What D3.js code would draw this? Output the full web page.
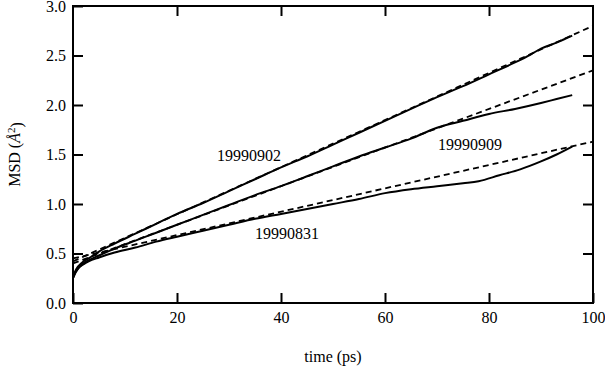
<!DOCTYPE html>
<html>
<head>
<meta charset="utf-8">
<script src="https://cdn.jsdelivr.net/npm/d3@7"></script>
<style>
    html, body {margin: 0; padding: 0; background: #fff;}
    svg {display: block;}
    text {font-family: "Liberation Serif", "Times New Roman", serif; fill: #000;}
</style>
</head>
<body>
<main></main>
<script>

// time (ps) and MSD values
var t0902 = [0, 0.5, 1, 2, 3, 5, 8, 12, 16, 20, 25, 30, 35, 40, 45, 50, 55, 60, 65, 70, 75, 80, 85, 88, 90, 93, 96],
    msd0902 = [0.26, 0.33, 0.37, 0.42, 0.45, 0.52, 0.60, 0.70, 0.80, 0.90, 1.01, 1.13, 1.25, 1.37, 1.48, 1.60, 1.72, 1.84, 1.96, 2.08, 2.19, 2.31, 2.43, 2.51, 2.57, 2.63, 2.70];

var t0909 = [0, 0.5, 1, 2, 3, 5, 8, 12, 16, 20, 25, 30, 35, 40, 45, 50, 55, 60, 65, 70, 75, 80, 85, 90, 93, 96],
    msd0909 = [0.25, 0.31, 0.35, 0.40, 0.43, 0.48, 0.55, 0.63, 0.71, 0.79, 0.89, 0.99, 1.09, 1.18, 1.28, 1.38, 1.48, 1.57, 1.66, 1.77, 1.84, 1.91, 1.96, 2.02, 2.06, 2.10];

var t0831 = [0, 0.5, 1, 2, 3, 5, 8, 12, 16, 20, 25, 30, 35, 40, 45, 50, 55, 60, 65, 70, 75, 78, 82, 86, 90, 93, 96],
    msd0831 = [0.25, 0.31, 0.35, 0.39, 0.42, 0.46, 0.51, 0.56, 0.62, 0.67, 0.73, 0.79, 0.85, 0.90, 0.95, 1.00, 1.05, 1.11, 1.15, 1.18, 1.21, 1.23, 1.29, 1.35, 1.43, 1.50, 1.58];

// linear fits (dashed), end points at t = 0 and t = 100
var fitT = [0, 100],
    fit0902 = [0.42, 2.80],
    fit0909 = [0.40, 2.35],
    fit0831 = [0.45, 1.63];

var names = ["19990902", "19990909", "19990831"];

var xTicks = [0, 20, 40, 60, 80, 100],
    yTicks = [0, 0.5, 1.0, 1.5, 2.0, 2.5, 3.0];

(function () {

    var width = 605,
        height = 370,
        margin = {top: 6, right: 12, bottom: 67, left: 73};

    var svg = d3.select("main")
            .append("svg")
            .attr("width", width)
            .attr("height", height);

    var x = d3.scaleLinear().domain([0, 100]).range([margin.left, width - margin.right]),
        y = d3.scaleLinear().domain([0, 3]).range([height - margin.bottom, margin.top]);

    var line = d3.line()
            .x(function (d) { return x(d[0]); })
            .y(function (d) { return y(d[1]); })
            .curve(d3.curveMonotoneX);

    var series = [
            {name: names[0], t: t0902, v: msd0902, fit: fit0902, at: [27.7, 1.43]},
            {name: names[1], t: t0909, v: msd0909, fit: fit0909, at: [70.2, 1.545]},
            {name: names[2], t: t0831, v: msd0831, fit: fit0831, at: [35.0, 0.645]}
        ];

    series.forEach(function (s) {
        svg.append("path")
            .datum(d3.zip(s.t, s.v))
            .attr("d", line)
            .attr("fill", "none")
            .attr("stroke", "#000")
            .attr("stroke-width", 2);

        svg.append("path")
            .datum(d3.zip(fitT, s.fit))
            .attr("d", line)
            .attr("fill", "none")
            .attr("stroke", "#000")
            .attr("stroke-width", 1.8)
            .attr("stroke-dasharray", "6,4");

        svg.append("text")
            .attr("x", x(s.at[0]))
            .attr("y", y(s.at[1]))
            .style("font-size", "16px")
            .text(s.name);
    });

    // axes, ticks point inward on all four sides
    var tickStyle = function (g) {
        g.select(".domain").remove();
        g.selectAll(".tick line")
            .style("stroke", "#000")
            .style("stroke-width", "2px");
        g.selectAll(".tick text").style("font-size", "16px");
    };

    svg.append("g")
        .attr("transform", "translate(0," + y(0) + ")")
        .call(d3.axisBottom(x).tickValues(xTicks).tickSizeInner(-10).tickSizeOuter(0).tickPadding(9))
        .call(tickStyle);

    svg.append("g")
        .attr("transform", "translate(0," + y(3) + ")")
        .call(d3.axisTop(x).tickValues(xTicks.slice(1, -1)).tickSizeInner(-10).tickSizeOuter(0).tickFormat(""))
        .call(tickStyle);

    svg.append("g")
        .attr("transform", "translate(" + x(0) + ",0)")
        .call(d3.axisLeft(y).tickValues(yTicks).tickSizeInner(-10).tickSizeOuter(0).tickPadding(7)
            .tickFormat(d3.format(".1f")))
        .call(tickStyle);

    svg.append("g")
        .attr("transform", "translate(" + x(100) + ",0)")
        .call(d3.axisRight(y).tickValues(yTicks.slice(1, -1)).tickSizeInner(-10).tickSizeOuter(0).tickFormat(""))
        .call(tickStyle);

    svg.append("rect")
        .attr("x", x(0))
        .attr("y", y(3))
        .attr("width", x(100) - x(0))
        .attr("height", y(0) - y(3))
        .attr("fill", "none")
        .attr("stroke", "#000")
        .attr("stroke-width", 2);

    svg.append("text")
        .attr("x", (x(0) + x(100)) / 2)
        .attr("y", 362)
        .attr("text-anchor", "middle")
        .style("font-size", "16px")
        .text("time (ps)");

    var ylab = svg.append("text")
        .attr("transform", "translate(20," + ((y(0) + y(3)) / 2) + ") rotate(-90)")
        .attr("text-anchor", "middle")
        .style("font-size", "16px");
    ylab.append("tspan").text("MSD (");
    ylab.append("tspan").style("font-style", "italic").text("Å");
    ylab.append("tspan").attr("dy", "-0.45em").style("font-size", "11px").text("2");
    ylab.append("tspan").attr("dy", "0.45em").text(")");

})();
</script>
</body>
</html>
